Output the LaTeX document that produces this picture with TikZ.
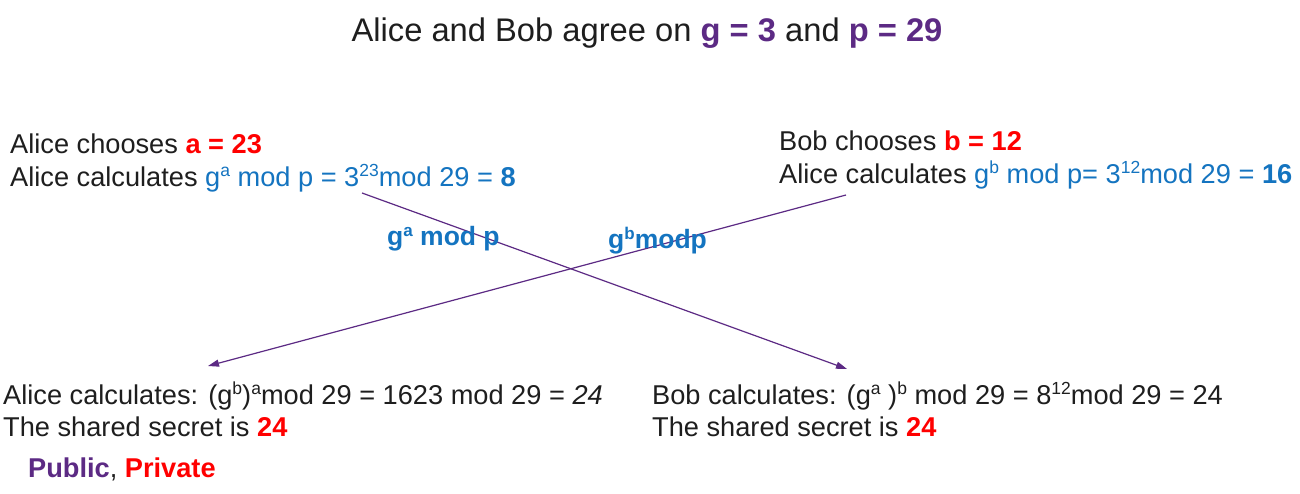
\documentclass[tikz,border=0pt]{standalone}
\usepackage{fontspec}
\setmainfont{Liberation Sans}
\usetikzlibrary{arrows.meta}
\definecolor{pubpurple}{RGB}{92,42,132}
\definecolor{privred}{RGB}{255,0,0}
\definecolor{calcblue}{RGB}{20,116,192}
\definecolor{txtblack}{RGB}{30,30,30}
\newcommand\supx[2][17.5]{\raisebox{0.36em}{\fontsize{#1}{#1}\selectfont #2}}
\tikzset{
  line/.style={inner sep=0pt, anchor=base west, text=txtblack, font=\fontsize{27.2}{33}\selectfont},
  titletext/.style={inner sep=0pt, anchor=base, text=txtblack, font=\fontsize{32.7}{38}\selectfont},
  edgelabel/.style={inner sep=0pt, anchor=base west, text=calcblue, font=\fontsize{26.5}{30}\selectfont\bfseries},
  exchange/.style={draw=pubpurple, line width=1.2pt, -{Triangle[length=11pt,width=7pt]}},
}
\begin{document}
\begin{tikzpicture}[x=1pt,y=-1pt]
\fill[white] (0,0) rectangle (1300,494);
\useasboundingbox (0,0) rectangle (1300,494);

\node[titletext] (title) at (647,42) {Alice and Bob agree on \textcolor{pubpurple}{\bfseries g = 3} and \textcolor{pubpurple}{\bfseries p = 29}};

\node[line] (a1) at (10,153.5) {Alice chooses \textcolor{privred}{\bfseries a = 23}};
\node[line] (a2) at (10,186.3) {Alice calculates \textcolor{calcblue}{g\supx{a} mod p = 3\supx{23}mod 29 = \bfseries 8}};

\node[line] (b1) at (779,150.7) {Bob chooses \textcolor{privred}{\bfseries b = 12}};
\node[line] (b2) at (779,183.3) {Alice calculates \textcolor{calcblue}{g\supx{b} mod p= 3\supx{12}mod 29 = \bfseries 16}};

\node[line] (c1) at (3,404) {Alice calculates: (g\supx{b})\supx{a}mod 29 = 1623 mod 29 = \textit{24}};
\node[line] (c2) at (3,436) {The shared secret is \textcolor{privred}{\bfseries 24}};

\node[line] (d1) at (652,404) {Bob calculates: (g\supx{a} )\supx{b} mod 29 = 8\supx{12}mod 29 = 24};
\node[line] (d2) at (652,436) {The shared secret is \textcolor{privred}{\bfseries 24}};

\node[line] (legend) at (28,477) {\textcolor{pubpurple}{\bfseries Public}, \textcolor{privred}{\bfseries Private}};

\coordinate (as) at (362,193);
\coordinate (ae) at (847,369);
\coordinate (bs) at (846,195);
\coordinate (be) at (208,366);
\draw[exchange] (as) -- (ae);
\draw[exchange] (bs) -- (be);

\node[edgelabel] (lab1) at (387,246) {g\supx[17]{a} mod p};
\node[edgelabel] (lab2) at (608,249) {g\supx[17]{b}modp};
\end{tikzpicture}
\end{document}
